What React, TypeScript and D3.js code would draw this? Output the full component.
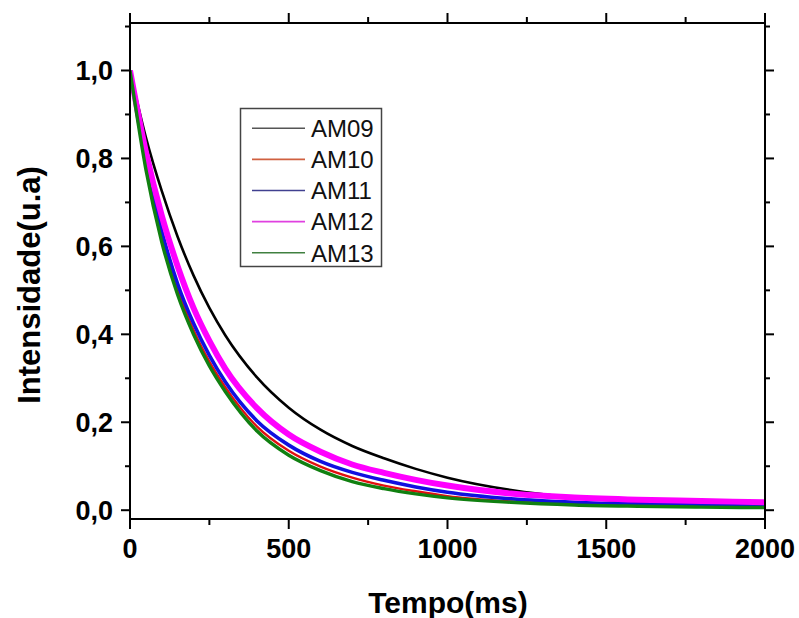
import React from "react";
import * as d3 from "d3";

const times = [0, 50, 100, 150, 200, 250, 300, 400, 500, 600, 700, 800, 900, 1000, 1200, 1400, 1600, 1800, 2000];
const am09 = [1.0, 0.848, 0.726, 0.622, 0.534, 0.46, 0.398, 0.302, 0.233, 0.183, 0.146, 0.118, 0.094, 0.074, 0.046, 0.029, 0.019, 0.013, 0.01];
const am10 = [1.0, 0.785, 0.625, 0.502, 0.41, 0.338, 0.28, 0.19, 0.135, 0.099, 0.074, 0.056, 0.043, 0.032, 0.02, 0.014, 0.011, 0.009, 0.008];
const am11 = [1.0, 0.795, 0.635, 0.515, 0.425, 0.352, 0.292, 0.203, 0.148, 0.111, 0.086, 0.068, 0.053, 0.041, 0.026, 0.018, 0.014, 0.012, 0.01];
const am12 = [1.0, 0.815, 0.67, 0.555, 0.46, 0.385, 0.322, 0.232, 0.172, 0.133, 0.104, 0.085, 0.069, 0.056, 0.038, 0.029, 0.024, 0.021, 0.018];
const am13 = [1.0, 0.775, 0.61, 0.49, 0.4, 0.328, 0.27, 0.18, 0.125, 0.09, 0.065, 0.049, 0.037, 0.028, 0.018, 0.012, 0.009, 0.007, 0.006];

const seriesNames = ["AM09", "AM10", "AM11", "AM12", "AM13"];
const seriesValues = [am09, am10, am11, am12, am13];
const seriesColors = ["#000000", "#e01010", "#1010e0", "#ff00ff", "#108010"];
const seriesWidths = [2.6, 2.4, 3.6, 6, 3.4];
const legendColors = ["#555555", "#d06040", "#404090", "#e040e0", "#408040"];

const xMajor = [0, 500, 1000, 1500, 2000];
const xMinor = [250, 750, 1250, 1750];
const yMajor = [0, 0.2, 0.4, 0.6, 0.8, 1.0];
const yMinor = [0.1, 0.3, 0.5, 0.7, 0.9, 1.1];

export default function App() {
  const W = 799, H = 618;
  const L = 130, R = 765, T = 23, B = 519;
  const x = d3.scaleLinear().domain([0, 2000]).range([L, R]);
  const y = d3.scaleLinear().domain([-0.02, 1.108]).range([B, T]);
  const line = d3
    .line<[number, number]>()
    .x((d) => x(d[0]))
    .y((d) => y(d[1]))
    .curve(d3.curveMonotoneX);
  const fmt = (v: number) => v.toFixed(1).replace(".", ",");
  const font = "'Liberation Sans', Arial, sans-serif";

  return (
    <svg width={W} height={H} style={{ position: "absolute", left: 0, top: 0, background: "#fff" }} fontFamily={font}>
      <rect x={0} y={0} width={W} height={H} fill="#fff" />
      <defs>
        <clipPath id="plot">
          <rect x={L} y={T} width={R - L} height={B - T} />
        </clipPath>
      </defs>
      <g clipPath="url(#plot)">
        {seriesValues.map((vals, i) => (
          <path
            key={seriesNames[i]}
            d={line(times.map((t, j) => [t, vals[j]] as [number, number])) || ""}
            fill="none"
            stroke={seriesColors[i]}
            strokeWidth={seriesWidths[i]}
            strokeLinejoin="round"
          />
        ))}
      </g>
      {/* frame */}
      <rect x={L} y={T} width={R - L} height={B - T} fill="none" stroke="#000" strokeWidth={2} />
      {/* x ticks */}
      {xMajor.map((v) => (
        <g key={"xM" + v}>
          <line x1={x(v)} x2={x(v)} y1={B} y2={B + 10} stroke="#000" strokeWidth={2} />
          <line x1={x(v)} x2={x(v)} y1={T} y2={T - 10} stroke="#000" strokeWidth={2} />
          <text x={x(v)} y={558} textAnchor="middle" fontSize={27} fontWeight="bold" fill="#000">
            {v}
          </text>
        </g>
      ))}
      {xMinor.map((v) => (
        <g key={"xm" + v}>
          <line x1={x(v)} x2={x(v)} y1={B} y2={B + 6} stroke="#000" strokeWidth={2} />
          <line x1={x(v)} x2={x(v)} y1={T} y2={T - 6} stroke="#000" strokeWidth={2} />
        </g>
      ))}
      {/* y ticks */}
      {yMajor.map((v) => (
        <g key={"yM" + v}>
          <line x1={L} x2={L - 9} y1={y(v)} y2={y(v)} stroke="#000" strokeWidth={2} />
          <line x1={R} x2={R + 9} y1={y(v)} y2={y(v)} stroke="#000" strokeWidth={2} />
          <text x={113} y={y(v) + 9.5} textAnchor="end" fontSize={27} fontWeight="bold" fill="#000">
            {fmt(v)}
          </text>
        </g>
      ))}
      {yMinor.map((v) => (
        <g key={"ym" + v}>
          <line x1={L} x2={L - 5} y1={y(v)} y2={y(v)} stroke="#000" strokeWidth={2} />
          <line x1={R} x2={R + 5} y1={y(v)} y2={y(v)} stroke="#000" strokeWidth={2} />
        </g>
      ))}
      {/* axis titles */}
      <text x={448} y={613} textAnchor="middle" fontSize={30} fontWeight="bold" fill="#000">
        Tempo(ms)
      </text>
      <text
        transform={`translate(40,285) rotate(-90)`}
        textAnchor="middle"
        fontSize={31}
        fontWeight="bold"
        fill="#000"
      >
        Intensidade(u.a)
      </text>
      {/* legend */}
      <rect x={240.5} y={108.5} width={141} height={158} fill="#fff" stroke="#444" strokeWidth={1.5} />
      {seriesNames.map((name, i) => {
        const yy = 128.3 + i * 31.1;
        return (
          <g key={"lg" + name}>
            <line x1={252} x2={305} y1={yy} y2={yy} stroke={legendColors[i]} strokeWidth={1.6} />
            <text x={311} y={yy + 8.8} fontSize={24} fill="#111">
              {name}
            </text>
          </g>
        );
      })}
    </svg>
  );
}
